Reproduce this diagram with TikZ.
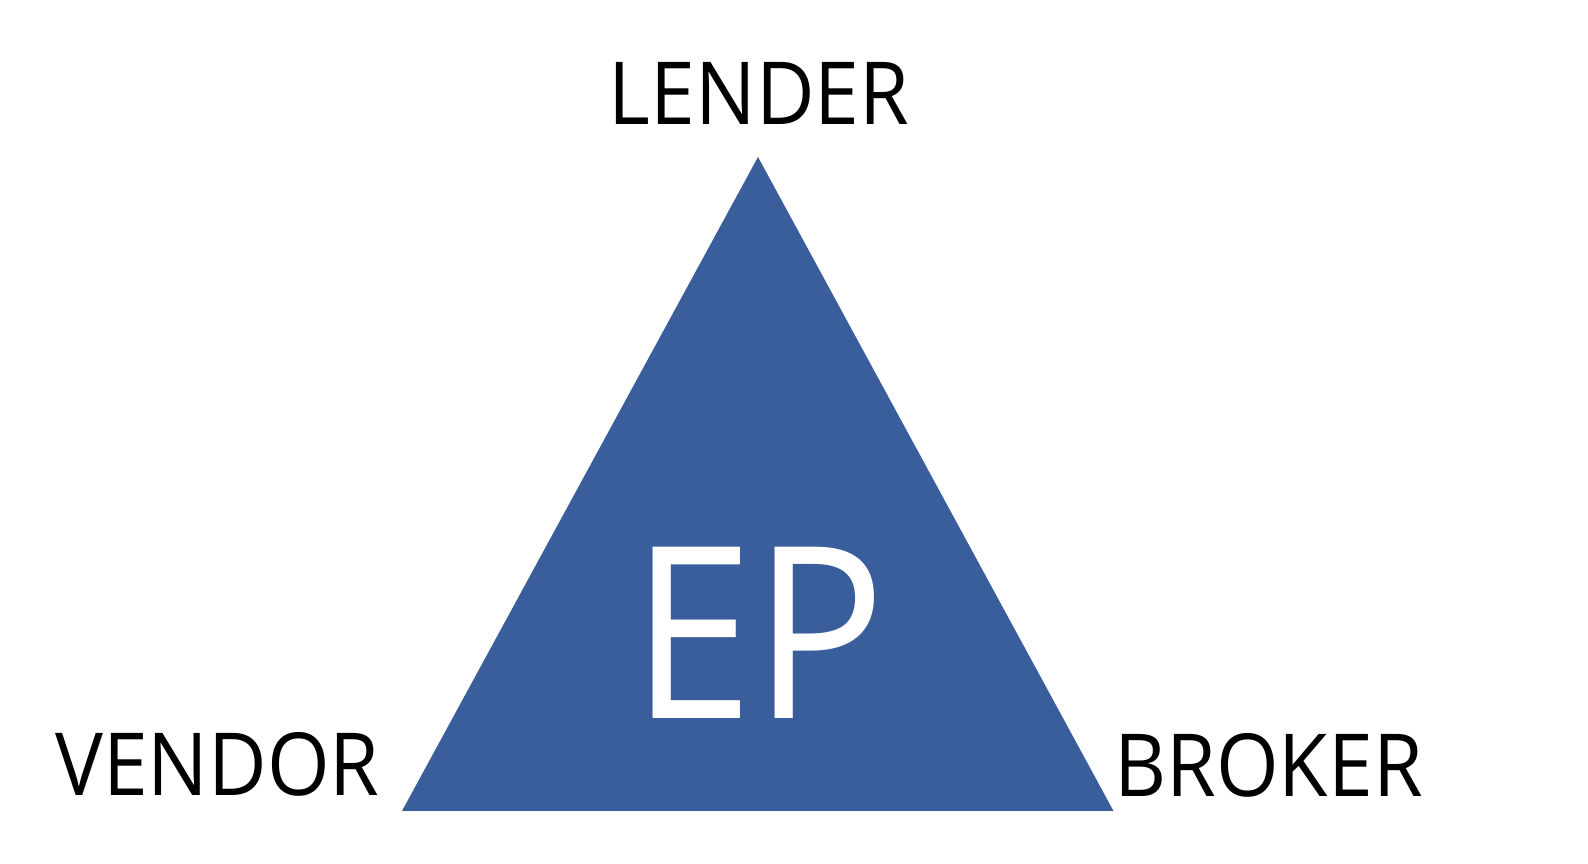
\documentclass[tikz,border=0pt]{standalone}
\usepackage{fontspec}
\setmainfont{Open Sans}
\usepackage{graphicx}
\definecolor{epblue}{RGB}{57,94,155}
\newcommand{\narrowtxt}[2]{\scalebox{#1}[1]{#2}}
\begin{document}
\begin{tikzpicture}[x=1pt,y=1pt,
  lbl/.style={inner sep=0pt,anchor=base,font=\fontsize{87}{90}\selectfont},
  big/.style={inner sep=0pt,anchor=base,text=white,font=\fontsize{240}{250}\selectfont}]
\useasboundingbox (0,0) rectangle (1588,864);
\coordinate (top) at (758,707);
\coordinate (bl) at (402,53);
\coordinate (br) at (1113.5,53);
\fill[epblue] (top) -- (bl) -- (br) -- cycle;
\node[big] (ep) at (759,145) {\narrowtxt{0.915}{EP}};
\node[lbl] (lender) at (759,739) {\narrowtxt{0.925}{LENDER}};
\node[lbl] (vendor) at (217.5,68) {\narrowtxt{0.925}{VENDOR}};
\node[lbl] (broker) at (1268.5,67) {\narrowtxt{0.925}{BROKER}};
\end{tikzpicture}
\end{document}
